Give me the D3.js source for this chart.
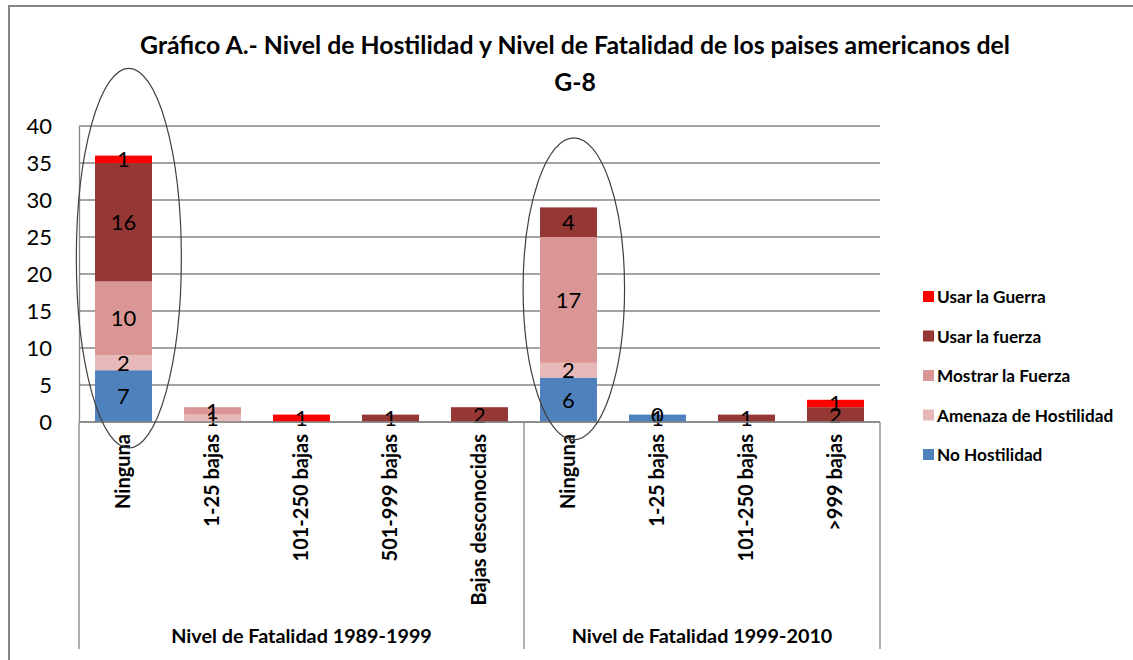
<!DOCTYPE html>
<html>
<head>
<meta charset="utf-8">
<script src="https://cdn.jsdelivr.net/npm/d3@7"></script>
<style>
  body { margin: 0; background: #fff; }
  svg { display: block; font-family: Lato, "Open Sans", sans-serif; }
</style>
</head>
<body>
<div id="plot"></div>
<script>
// categories (two levels)
const groups = ["Nivel de Fatalidad 1989-1999", "Nivel de Fatalidad 1999-2010"];
const categories = [
  {group: 0, name: "Ninguna"},
  {group: 0, name: "1-25 bajas"},
  {group: 0, name: "101-250 bajas"},
  {group: 0, name: "501-999 bajas"},
  {group: 0, name: "Bajas desconocidas"},
  {group: 1, name: "Ninguna"},
  {group: 1, name: "1-25 bajas"},
  {group: 1, name: "101-250 bajas"},
  {group: 1, name: ">999 bajas"}
];

// series values, bottom to top in the stack
const seriesNames = ["No Hostilidad", "Amenaza de Hostilidad", "Mostrar la Fuerza", "Usar la fuerza", "Usar la Guerra"];
const noHostilidad = [7, null, null, null, null, 6, 1, null, null];
const amenaza      = [2, 1, null, null, null, 2, 0, null, null];
const mostrar      = [10, 1, null, null, null, 17, null, null, null];
const usarFuerza   = [16, null, null, 1, 2, 4, null, 1, 2];
const usarGuerra   = [1, null, 1, null, null, null, null, null, 1];
const seriesColors = ["#4f81bd", "#e6b9b8", "#d99694", "#953735", "#ff0000"];

const yTicks = [0, 5, 10, 15, 20, 25, 30, 35, 40];

// hand-drawn ellipses: category index, value range covered
const ellipses = [
  {cat: 0, shift: 0.06, half: 0.59, top: 47.8, bottom: -3.5},
  {cat: 5, shift: 0.06, half: 0.57, top: 38.4, bottom: -2.4}
];

const W = 1133, H = 660;
const plot = {left: 79, right: 880, top: 126, bottom: 422};

const svg = d3.select("#plot").append("svg")
  .attr("width", W).attr("height", H);

// outer chart border
svg.append("rect")
  .attr("x", 9).attr("y", 6).attr("width", 1300).attr("height", 800)
  .attr("fill", "none").attr("stroke", "#868686").attr("stroke-width", 2);

// title
const title = svg.append("text")
  .attr("text-anchor", "middle")
  .attr("font-weight", "bold")
  .attr("font-size", 24.8)
  .attr("fill", "#000");
title.append("tspan").attr("x", 575).attr("y", 54)
  .text("Gráfico A.- Nivel de Hostilidad y Nivel de Fatalidad de los paises americanos del");
title.append("tspan").attr("x", 575).attr("y", 91).text("G-8");

const x = d3.scaleBand()
  .domain(d3.range(categories.length))
  .range([plot.left, plot.right])
  .paddingInner(0.36)
  .paddingOuter(0.18);

const y = d3.scaleLinear().domain([0, 40]).range([plot.bottom, plot.top]);

// gridlines
svg.append("g").selectAll("line")
  .data(yTicks)
  .join("line")
  .attr("x1", plot.left).attr("x2", plot.right)
  .attr("y1", d => y(d)).attr("y2", d => y(d))
  .attr("stroke", "#868686").attr("stroke-width", 1.3);

// y axis
const yAxis = svg.append("g")
  .attr("transform", `translate(${plot.left},0)`)
  .call(d3.axisLeft(y).tickValues(yTicks).tickSize(0).tickPadding(27));
yAxis.select(".domain").attr("stroke", "#868686").attr("stroke-width", 1.3);
yAxis.selectAll("text").attr("font-size", 22).attr("font-family", "Lato, sans-serif").attr("fill", "#000");

// stacked data
const seriesValues = [noHostilidad, amenaza, mostrar, usarFuerza, usarGuerra];
const rows = categories.map((c, i) => {
  const r = {i};
  seriesNames.forEach((s, k) => { r[s] = seriesValues[k][i] || 0; });
  return r;
});
const stacked = d3.stack().keys(seriesNames)(rows);

const layers = svg.append("g").selectAll("g")
  .data(stacked)
  .join("g")
  .attr("fill", (d, k) => seriesColors[k]);

layers.selectAll("rect")
  .data(d => d.filter(p => p[1] > p[0]))
  .join("rect")
  .attr("x", p => x(p.data.i))
  .attr("width", x.bandwidth())
  .attr("y", p => y(p[1]))
  .attr("height", p => y(p[0]) - y(p[1]));

// data labels
const labels = [];
stacked.forEach((layer, k) => {
  layer.forEach((p, i) => {
    const v = seriesValues[k][i];
    if (v !== null) labels.push({i, v, mid: (p[0] + p[1]) / 2});
  });
});
svg.append("g").selectAll("text")
  .data(labels)
  .join("text")
  .attr("x", d => x(d.i) + x.bandwidth() / 2)
  .attr("y", d => y(d.mid))
  .attr("dy", "0.36em")
  .attr("text-anchor", "middle")
  .attr("font-size", 22)
  .attr("fill", "#000")
  .text(d => d.v);

// zero line on top
svg.append("line")
  .attr("x1", plot.left).attr("x2", plot.right)
  .attr("y1", y(0)).attr("y2", y(0))
  .attr("stroke", "#868686").attr("stroke-width", 1.3);

// category labels, rotated
svg.append("g").selectAll("text")
  .data(categories)
  .join("text")
  .attr("transform", (d, i) => `translate(${x(i) + x.bandwidth() / 2 + 6.5},${plot.bottom + 12}) rotate(-90)`)
  .attr("text-anchor", "end")
  .attr("font-size", 20)
  .attr("font-weight", "bold")
  .attr("fill", "#000")
  .text(d => d.name);

// group level separators and labels
const step = x.step();
const groupBounds = groups.map((g, gi) => {
  const idx = categories.map((c, i) => c.group === gi ? i : -1).filter(i => i >= 0);
  const x0 = x(idx[0]) - step * x.paddingInner() / 2;
  const x1 = x(idx[idx.length - 1]) + x.bandwidth() + step * x.paddingInner() / 2;
  return {name: g, x0, x1};
});
const sepX = [plot.left, (groupBounds[0].x1 + groupBounds[1].x0) / 2, plot.right];
svg.append("g").selectAll("line")
  .data(sepX)
  .join("line")
  .attr("x1", d => d).attr("x2", d => d)
  .attr("y1", plot.bottom).attr("y2", 649)
  .attr("stroke", "#868686").attr("stroke-width", 1.3);

svg.append("g").selectAll("text")
  .data(groups)
  .join("text")
  .attr("x", (d, gi) => (sepX[gi] + sepX[gi + 1]) / 2)
  .attr("y", 643)
  .attr("text-anchor", "middle")
  .attr("font-size", 19.8)
  .attr("font-weight", "bold")
  .attr("fill", "#000")
  .text(d => d);

// ellipses
svg.append("g").selectAll("ellipse")
  .data(ellipses)
  .join("ellipse")
  .attr("cx", d => x(d.cat) + x.bandwidth() / 2 + d.shift * step)
  .attr("rx", d => d.half * step)
  .attr("cy", d => (y(d.top) + y(d.bottom)) / 2)
  .attr("ry", d => (y(d.bottom) - y(d.top)) / 2)
  .attr("fill", "none")
  .attr("stroke", "#404040")
  .attr("stroke-width", 1.2);

// legend, top entry is the last series
const legend = svg.append("g").attr("transform", "translate(923,297)");
const legendItems = seriesNames.map((s, k) => ({name: s, color: seriesColors[k]})).reverse();
const li = legend.selectAll("g")
  .data(legendItems)
  .join("g")
  .attr("transform", (d, k) => `translate(0,${k * 39.5})`);
li.append("rect")
  .attr("x", 0).attr("y", -6).attr("width", 11).attr("height", 11)
  .attr("fill", d => d.color);
li.append("text")
  .attr("x", 14).attr("y", 0).attr("dy", "0.35em")
  .attr("font-size", 17.2)
  .attr("font-weight", "bold")
  .attr("fill", "#000")
  .text(d => d.name);
</script>
</body>
</html>
